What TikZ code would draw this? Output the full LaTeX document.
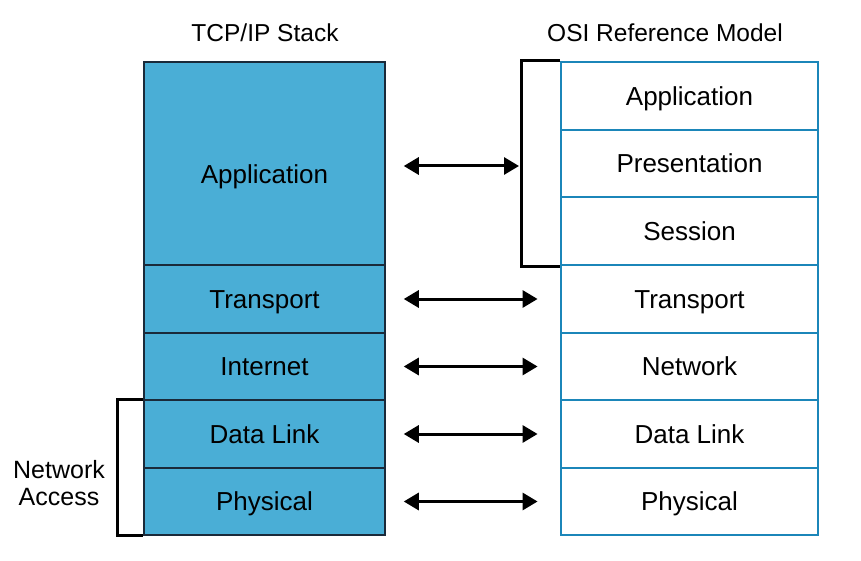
\documentclass[tikz,border=0pt]{standalone}
\usepackage{fontspec}
\setmainfont{Liberation Sans}
\usetikzlibrary{arrows.meta}
\definecolor{lblue}{HTML}{4AAED6}
\definecolor{rblue}{HTML}{1B86B9}
\definecolor{lline}{HTML}{1A2A3A}
\begin{document}
\begin{tikzpicture}[x=1pt,y=-1pt,
  boxfont/.style={font=\fontsize{26}{30}\selectfont,text height=18.6pt,text depth=0pt},
  lbox/.style={draw=lline,line width=1.5pt,fill=lblue,minimum width=241pt,inner sep=0pt,boxfont},
  rbox/.style={draw=rblue,line width=2.8pt,fill=white,minimum width=257pt,inner sep=0pt,boxfont},
  title/.style={font=\fontsize{24.5}{28}\selectfont},
  conn/.style={line width=3pt,{Triangle[length=15pt,width=17pt]}-{Triangle[length=15pt,width=17pt]}},
  brk/.style={line width=3pt}]
\useasboundingbox (0,0) rectangle (861,561);
% left stack
\node[lbox,minimum height=203pt,text height=40.6pt] (lapp) at (264.5,163.5) {Application};
\node[lbox,minimum height=68pt] (ltr) at (264.5,299) {Transport};
\node[lbox,minimum height=67pt] (lin) at (264.5,366.5) {Internet};
\node[lbox,minimum height=68pt] (ldl) at (264.5,434) {Data Link};
\node[lbox,minimum height=67pt] (lph) at (264.5,501.5) {Physical};
% right stack
\node[rbox,minimum height=68pt] (rapp) at (689.5,96) {Application};
\node[rbox,minimum height=67pt] (rpr) at (689.5,163.5) {Presentation};
\node[rbox,minimum height=68pt] (rse) at (689.5,231) {Session};
\node[rbox,minimum height=68pt] (rtr) at (689.5,299) {Transport};
\node[rbox,minimum height=67pt] (rnw) at (689.5,366.5) {Network};
\node[rbox,minimum height=68pt] (rdl) at (689.5,434) {Data Link};
\node[rbox,minimum height=67pt] (rph) at (689.5,501.5) {Physical};
% titles
\node[title] (tl) at (265,33) {TCP/IP Stack};
\node[title] (tr) at (665,33) {OSI Reference Model};
\node[align=center,font=\fontsize{25}{27}\selectfont] (na) at (59,483) {Network\\Access};
% brackets
\coordinate (rbx) at (521,0);
\coordinate (lbx) at (117,0);
\draw[brk] (rapp.north west) -- (rbx |- rapp.north west) -- (rbx |- rse.south west) -- (rse.south west);
\draw[brk] (ldl.north west) -- (lbx |- ldl.north west) -- (lbx |- lph.south west) -- (lph.south west);
% arrows
\coordinate (append) at (519,166);
\draw[conn] ([xshift=18pt]lapp.east |- append) -- (append);
\draw[conn] ([xshift=18pt]ltr.east) -- ([xshift=-22pt]rtr.west);
\draw[conn] ([xshift=18pt]lin.east) -- ([xshift=-22pt]rnw.west);
\draw[conn] ([xshift=18pt]ldl.east) -- ([xshift=-22pt]rdl.west);
\draw[conn] ([xshift=18pt]lph.east) -- ([xshift=-22pt]rph.west);
\end{tikzpicture}
\end{document}
